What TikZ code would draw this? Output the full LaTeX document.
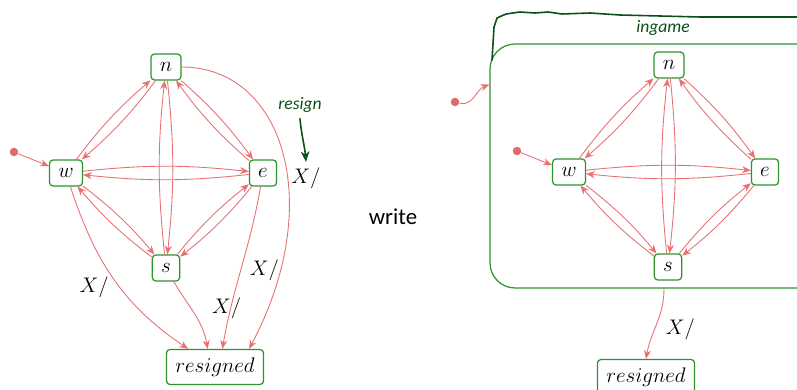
\documentclass[tikz,border=0pt]{standalone}
\usepackage{fontspec}
\newfontfamily\notefont{Carlito}
\usetikzlibrary{arrows.meta,positioning,calc}
\definecolor{EdgeRed}{RGB}{232,112,112}
\definecolor{StateGreen}{RGB}{46,146,46}
\definecolor{InkGreen}{RGB}{10,80,25}
\definecolor{DotRed}{RGB}{226,104,108}
\tikzset{
  >=Stealth,
  state/.style={draw=StateGreen,line width=.7pt,rounded corners=2pt,fill=white,font=\large,minimum height=.52cm,inner xsep=5pt,inner ysep=2pt},
  endstate/.style={state,minimum height=.7cm},
  superstate/.style={draw=StateGreen,line width=.7pt,rounded corners=.5cm,minimum width=6.96cm,minimum height=4.88cm},
  tr/.style={-{Stealth[length=5pt,width=4pt]},draw=EdgeRed,line width=.5pt},
  initdot/.style={circle,fill=DotRed,inner sep=0pt,minimum size=.17cm},
  lbl/.style={font=\large,inner sep=3pt},
  note/.style={font=\notefont\itshape,text=InkGreen},
  ink/.style={draw=InkGreen,line width=.9pt,line cap=round,line join=round}
}
\begin{document}
\begin{tikzpicture}[x=0.02cm,y=0.02cm]
  \useasboundingbox (0,0) rectangle (797,389);
  % left: flat machine
  \node[state] (ln) at (166,322) {$n$};
  \node[state] (lw) at (66,216) {$w$};
  \node[state] (le) at (263,216) {$e$};
  \node[state] (ls) at (166,121) {$s$};
  \node[endstate] (lres) at (215,22) {$resigned$};
  \node[initdot] (ldot) at (14,237) {};
  \draw[tr] (ldot) -- (lw);
  \foreach \a/\b in {n/w,n/e,n/s,w/e,w/s,e/s}{
    \draw[tr] (l\a) to[bend left=6] (l\b);
    \draw[tr] (l\b) to[bend left=6] (l\a);
  }
  \draw[tr] (lw) to[out=-72,in=146] node[lbl,pos=.55,left=3pt] {$X/$} (lres.146);
  \draw[tr] (ls) to[out=-60,in=100] node[lbl,pos=.4,right=9pt] {$X/$} (lres.112);
  \draw[tr] (le) to[out=-100,in=80] node[lbl,pos=.52,right=2pt] {$X/$} (lres.68);
  \draw[tr] (ln.east) to[out=0,in=62,out looseness=.9,in looseness=1.45] (lres.28);
  \node[lbl] (xres) at (306,211) {$X/$};
  \node[note] (resignnote) at (300,284) {resign};
  \draw[ink,-{Stealth[open,length=6pt,width=5pt]}] (resignnote.south) to[out=-85,in=95] (xres.north);
  \node[font=\notefont\fontsize{13}{15}\selectfont] (writelbl) at (393,172) {write};
  % right: machine inside ingame
  \node[superstate] (ingame) at (664,223) {};
  \node[state] (rn) at (669,324) {$n$};
  \node[state] (rw) at (569,217) {$w$};
  \node[state] (re) at (765,217) {$e$};
  \node[state] (rs) at (668,122) {$s$};
  \node[initdot] (rdot) at (517,238) {};
  \draw[tr] (rdot) -- (rw);
  \foreach \a/\b in {n/w,n/e,n/s,w/e,w/s,e/s}{
    \draw[tr] (r\a) to[bend left=6] (r\b);
    \draw[tr] (r\b) to[bend left=6] (r\a);
  }
  \node[initdot] (outerdot) at (455,287) {};
  \draw[tr] (outerdot) to[out=-15,in=200] (ingame.155);
  \node[endstate] (rres) at (646,12) {$resigned$};
  \draw[tr] (ingame.south) to[out=-90,in=80] node[lbl,pos=.58,right=3pt] {$X/$} (rres.north);
  \draw[ink] (492,329) -- (493,345) -- (494,362) -- (497,371) -- (506,375) -- (520,377) -- (535,376) -- (548,377)
    -- (562,375) -- (590,376) -- (620,374) -- (660,373) -- (700,372) -- (760,372) -- (830,372);
  \node[note] (ingamenote) at (663,361) {ingame};
\end{tikzpicture}
\end{document}
